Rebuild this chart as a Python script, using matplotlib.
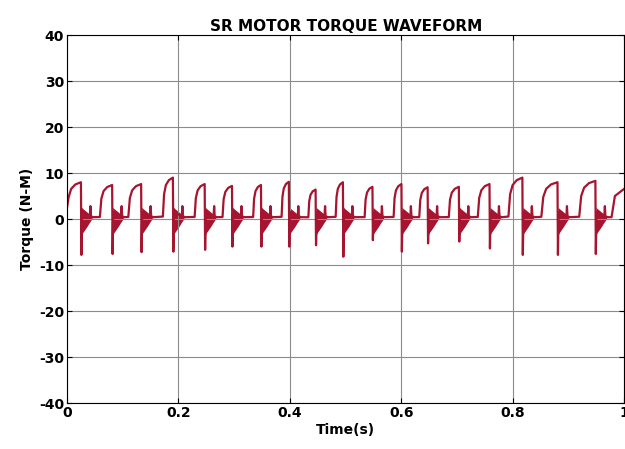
import matplotlib
matplotlib.use('Agg')
import matplotlib.pyplot as plt
import numpy as np

plt.rcParams['axes.unicode_minus'] = False

# pulse data
drop_t = [0.025, 0.081, 0.133, 0.190, 0.247, 0.296, 0.348, 0.398, 0.446,
          0.495, 0.548, 0.600, 0.647, 0.703, 0.758, 0.817, 0.880, 0.948]
peak_v = [8.0, 7.4, 7.6, 9.0, 7.6, 7.2, 7.4, 8.1, 6.4,
          8.0, 7.0, 7.6, 6.9, 7.0, 7.6, 9.0, 8.0, 8.3]
neg_v = [-7.8, -7.6, -7.2, -7.1, -6.7, -6.0, -6.0, -6.0, -5.7,
         -8.2, -4.6, -7.1, -5.3, -4.9, -6.4, -7.8, -7.8, -7.6]
rise_w = [0.025, 0.022, 0.023, 0.018, 0.018, 0.017, 0.014, 0.013, 0.013,
          0.013, 0.014, 0.014, 0.015, 0.018, 0.021, 0.025, 0.029, 0.029]
start_v = 2.5
last_rise_t = 0.977
end_v = 6.6

# rise shape (fraction of width, fraction of peak)
rise_ft = [0.0, 0.12, 0.3, 0.6, 1.0]
rise_fv = [0.06, 0.6, 0.82, 0.94, 1.0]
# after-drop points (offset s, value)
after_dt = [0.0008, 0.002, 0.016, 0.017, 0.018, 0.022]
after_v = [None, 1.5, 0.6, 2.8, 0.6, 0.4]
# ringing envelope
ring_dt = [0.001, 0.003, 0.007, 0.011, 0.015, 0.02]
ring_hi = [2.6, 2.3, 1.9, 1.5, 1.1, 0.6]
ring_lo = [-3.6, -3.0, -2.3, -1.6, -0.8, 0.1]

color = '#A6142F'

fig = plt.figure(figsize=(6.25, 4.49), dpi=100)
ax = fig.add_axes([0.1072, 0.1024, 0.8918, 0.8196])

t, y = [0.0], [start_v]
for i, td in enumerate(drop_t):
    if i > 0:
        for ft, fv in zip(rise_ft, rise_fv):
            t.append(td - rise_w[i] * (1 - ft))
            y.append(peak_v[i] * fv)
    else:
        for ft, fv in zip(rise_ft[1:], rise_fv[1:]):
            t.append(td - rise_w[i] * (1 - ft))
            y.append(max(start_v, peak_v[i] * fv))
    for dt, v in zip(after_dt, after_v):
        t.append(td + dt)
        y.append(neg_v[i] if v is None else v)
    rt = [td + d for d in ring_dt]
    ax.fill_between(rt, ring_lo, ring_hi, color=color, lw=0)
t += [last_rise_t, last_rise_t + 0.006, 1.0]
y += [0.4, 5.0, end_v]

ax.plot(t, y, color=color, lw=1.6)

ax.set_xlim(0, 1)
ax.set_ylim(-40, 40)
ax.set_xticks([0, 0.2, 0.4, 0.6, 0.8, 1])
ax.set_xticklabels(['0', '0.2', '0.4', '0.6', '0.8', '1'])
ax.set_yticks(range(-40, 41, 10))
ax.grid(True, color='#8c8c8c', lw=0.8)
ax.tick_params(direction='in', top=True, right=True, labelsize=10, pad=2)
for lab in ax.get_xticklabels() + ax.get_yticklabels():
    lab.set_fontweight('bold')
ax.set_title('SR MOTOR TORQUE WAVEFORM', fontsize=11, fontweight='bold', pad=3)
ax.set_xlabel('Time(s)', fontsize=10, fontweight='bold', labelpad=2)
ax.set_ylabel('Torque (N-M)', fontsize=10, fontweight='bold', labelpad=4)

fig.savefig('out.png', dpi=100)
